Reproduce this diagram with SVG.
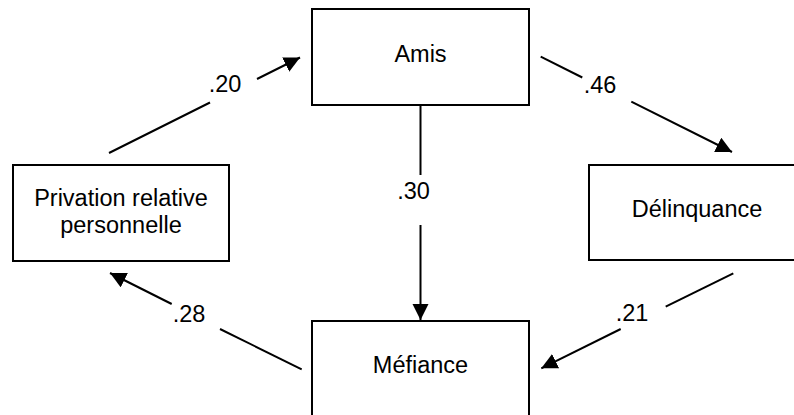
<svg xmlns="http://www.w3.org/2000/svg" width="794" height="415" viewBox="0 0 794 415">
<style>
.box{fill:#fff;stroke:#000;stroke-width:2}
.t{font-family:"Liberation Sans",Arial,Helvetica,sans-serif;font-size:23.5px;fill:#000;text-anchor:middle}
.c{stroke:#000;stroke-width:2;fill:none}
</style>
<defs>
<marker id="ah" markerUnits="userSpaceOnUse" markerWidth="17" markerHeight="17" viewBox="0 0 17 17" refX="16" refY="8" orient="auto">
<path d="M0,0 L16,8 L0,16 z" fill="#000"/>
</marker>
</defs>
<rect width="794" height="415" fill="#fff"/>
<g id="amis"><rect class="box" x="312" y="9" width="217" height="96"/><text class="t" x="420.5" y="62">Amis</text></g>
<g id="privation"><rect class="box" x="13" y="165" width="216" height="96"/><text class="t" x="121" y="206">Privation relative</text><text class="t" x="121" y="233">personnelle</text></g>
<g id="delinquance"><rect class="box" x="589" y="165" width="216" height="95"/><text class="t" x="697" y="217">Délinquance</text></g>
<g id="mefiance"><rect class="box" x="312" y="321" width="217" height="96"/><text class="t" x="420.5" y="373">Méfiance</text></g>
<g id="connectors">
<line class="c" x1="420.5" y1="105" x2="420.5" y2="175"/>
<line class="c" x1="420.5" y1="225" x2="420.5" y2="320" marker-end="url(#ah)"/>
<line class="c" x1="109" y1="153" x2="210" y2="102.5"/>
<line class="c" x1="257" y1="79" x2="300" y2="57.5" marker-end="url(#ah)"/>
<line class="c" x1="540.7" y1="56.7" x2="582.3" y2="77.5"/>
<line class="c" x1="631.3" y1="101.7" x2="732" y2="152" marker-end="url(#ah)"/>
<line class="c" x1="733.3" y1="273.3" x2="665.7" y2="306.7"/>
<line class="c" x1="620.7" y1="329" x2="541.3" y2="368.3" marker-end="url(#ah)"/>
<line class="c" x1="301.7" y1="369.3" x2="220" y2="329"/>
<line class="c" x1="171.7" y1="304" x2="110" y2="273" marker-end="url(#ah)"/>
<text class="t" x="225" y="92">.20</text>
<text class="t" x="600" y="93">.46</text>
<text class="t" x="413.5" y="199">.30</text>
<text class="t" x="632" y="321">.21</text>
<text class="t" x="189" y="322">.28</text>
</g>
</svg>
